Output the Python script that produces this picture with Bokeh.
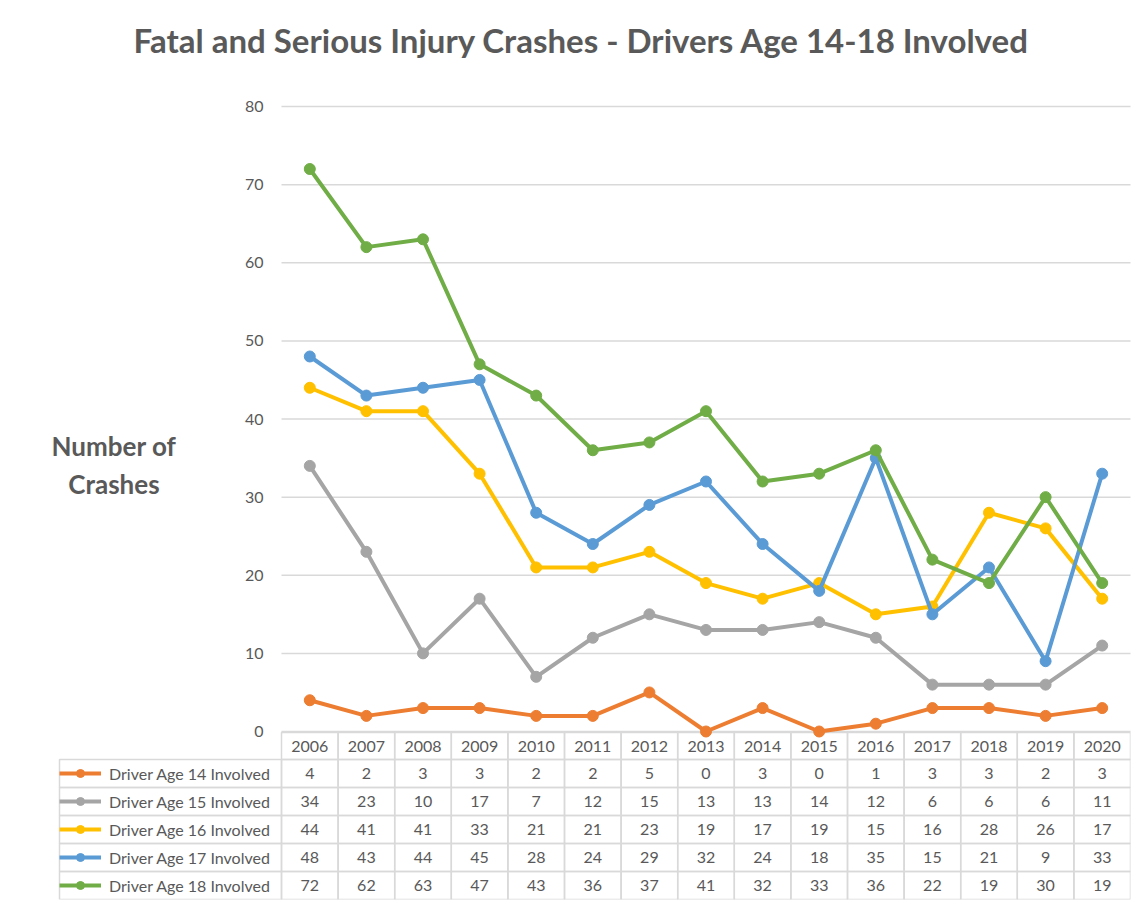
from bokeh.plotting import figure
from bokeh.models import Range1d, FixedTicker, Legend, LegendItem, Label, ColumnDataSource
from bokeh.core.properties import value
from bokeh.embed import file_html
from bokeh.resources import INLINE

years = ["2006", "2007", "2008", "2009", "2010", "2011", "2012", "2013",
         "2014", "2015", "2016", "2017", "2018", "2019", "2020"]
series_names = ["Driver Age 14 Involved", "Driver Age 15 Involved", "Driver Age 16 Involved",
                "Driver Age 17 Involved", "Driver Age 18 Involved"]
age14 = [4, 2, 3, 3, 2, 2, 5, 0, 3, 0, 1, 3, 3, 2, 3]
age15 = [34, 23, 10, 17, 7, 12, 15, 13, 13, 14, 12, 6, 6, 6, 11]
age16 = [44, 41, 41, 33, 21, 21, 23, 19, 17, 19, 15, 16, 28, 26, 17]
age17 = [48, 43, 44, 45, 28, 24, 29, 32, 24, 18, 35, 15, 21, 9, 33]
age18 = [72, 62, 63, 47, 43, 36, 37, 41, 32, 33, 36, 22, 19, 30, 19]
series_values = [age14, age15, age16, age17, age18]
colors = ["#ED7D31", "#A5A5A5", "#FFC000", "#5B9BD5", "#70AD47"]
y_ticks = [0, 10, 20, 30, 40, 50, 60, 70, 80]

title_text = "Fatal and Serious Injury Crashes - Drivers Age 14-18 Involved"
y_title = "Number of\nCrashes"

TEXT = "#595959"
GRID = "#D9D9D9"
FONT = "Lato"

n = len(years)
xs = list(range(n))
X_LEFT = -4.7580      # left edge of the plotting frame
X_LABCOL = -4.4223    # left edge of the table's label column

p = figure(width=1145, height=900, output_backend="svg", toolbar_location=None,
           x_range=Range1d(X_LEFT, n - 0.5), y_range=Range1d(-21.504, 84.608),
           x_axis_location=None, y_axis_location="left",
           min_border_left=40, min_border_right=15, min_border_top=70, min_border_bottom=1,
           title=title_text)
p.outline_line_color = None
p.xgrid.visible = False
p.ygrid.visible = False
p.background_fill_color = "white"
p.border_fill_color = "white"

p.title.text_font = FONT
p.title.text_font_style = "bold"
p.title.text_font_size = "33px"
p.title.text_color = TEXT
p.title.align = "left"
p.title.offset = 93
p.title.standoff = 22

# y axis at the left edge of the chart columns
yax = p.yaxis[0]
yax.fixed_location = -0.5
yax.ticker = FixedTicker(ticks=y_ticks)
yax.axis_line_color = None
yax.major_tick_line_color = None
yax.minor_tick_line_color = None
yax.major_label_text_font = FONT
yax.major_label_text_font_size = "16px"
yax.major_label_text_color = TEXT
yax.major_label_standoff = 12

# horizontal gridlines over the chart columns only
p.segment(x0=[-0.5] * len(y_ticks), x1=[n - 0.47] * len(y_ticks), y0=y_ticks, y1=y_ticks,
          line_color=GRID, line_width=1.5)

# table range: header row above row 0, data rows 0..4
p.extra_y_ranges = {"tbl": Range1d(5, 5 - 829 / 28.0)}
hdr_top = -27 / 28.0

# header cells
p.quad(left=[x - 0.5 for x in xs], right=[x + 0.5 for x in xs],
       top=[hdr_top] * n, bottom=[0] * n, y_range_name="tbl",
       fill_color=None, line_color=GRID, line_width=1.5)
p.text(x=xs, y=[hdr_top / 2] * n, text=years, y_range_name="tbl",
       text_font=value(FONT), text_font_size="16px", text_color=TEXT,
       text_align="center", text_baseline="middle")

# data cells
cx, cy, ct = [], [], []
for r, vals in enumerate(series_values):
    for i, v in enumerate(vals):
        cx.append(i)
        cy.append(r)
        ct.append(str(v))
p.quad(left=[x - 0.5 for x in cx], right=[x + 0.5 for x in cx],
       top=cy, bottom=[y + 1 for y in cy], y_range_name="tbl",
       fill_color=None, line_color=GRID, line_width=1.5)
p.text(x=cx, y=[y + 0.5 for y in cy], text=ct, y_range_name="tbl",
       text_font=value(FONT), text_font_size="16px", text_color=TEXT,
       text_align="center", text_baseline="middle")

# label column cells
rows = list(range(len(series_names)))
p.quad(left=[X_LABCOL] * len(rows), right=[-0.5] * len(rows),
       top=rows, bottom=[r + 1 for r in rows], y_range_name="tbl",
       fill_color=None, line_color=GRID, line_width=1.5)

# lines and markers
items = []
for name, vals, c in zip(series_names, series_values, colors):
    src = ColumnDataSource(dict(x=xs, y=vals))
    lr = p.line("x", "y", source=src, line_color=c, line_width=4, line_join="round")
    sr = p.scatter("x", "y", source=src, size=11, fill_color=c, line_color=c)
    items.append(LegendItem(label=name, renderers=[lr, sr]))

legend = Legend(items=items, location=(19, 4), orientation="vertical",
                glyph_width=42, glyph_height=20, label_height=20, spacing=8,
                padding=4, margin=0, label_standoff=8,
                label_text_font=FONT, label_text_font_size="16px", label_text_color=TEXT,
                border_line_color=None, background_fill_alpha=0)
p.add_layout(legend)

lab = Label(x=-3.46, y=34.1, text=y_title, text_font=FONT, text_font_style="bold",
            text_font_size="26px", text_color=TEXT, text_align="center",
            text_baseline="middle")
p.add_layout(lab)

open("out.html", "w").write(file_html(p, INLINE))
